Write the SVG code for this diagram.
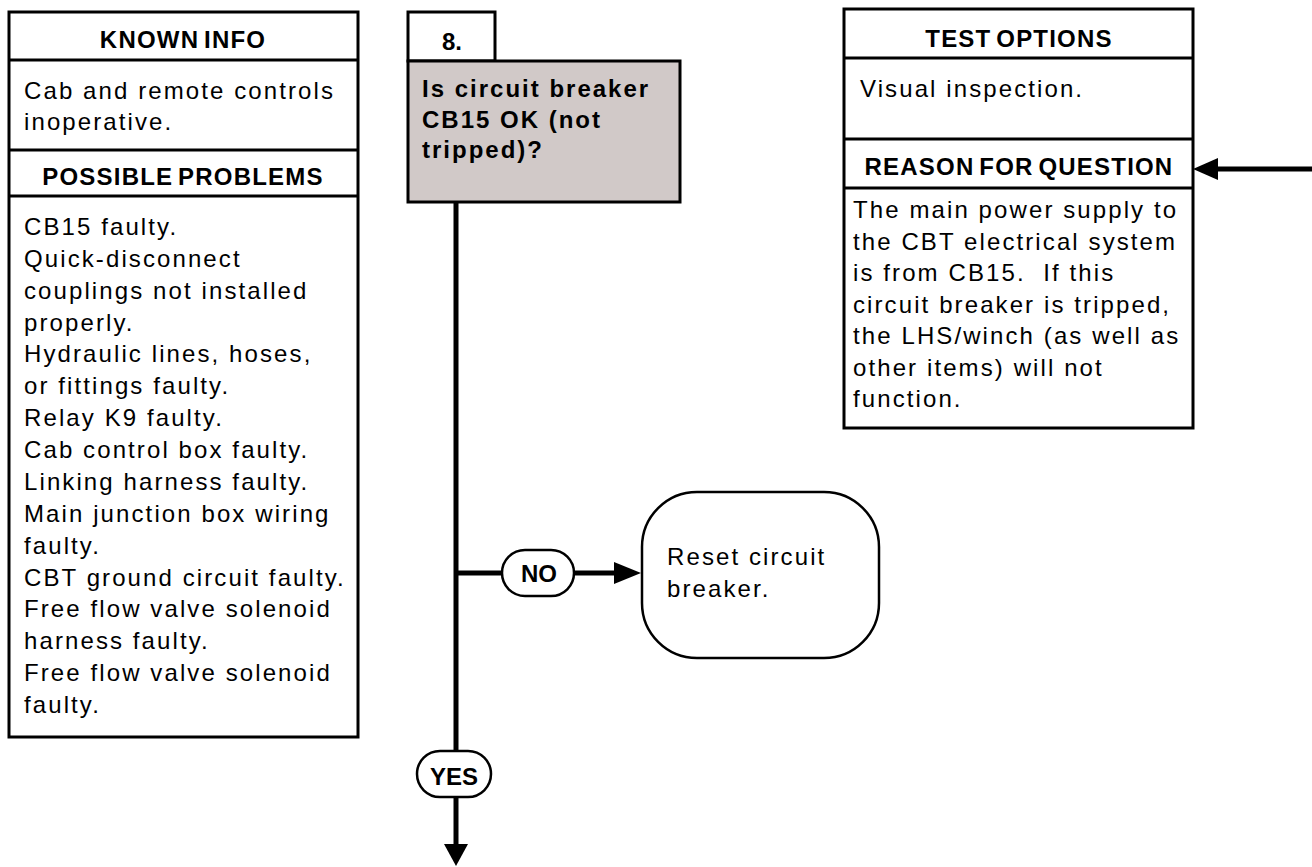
<svg xmlns="http://www.w3.org/2000/svg" width="1312" height="867" viewBox="0 0 1312 867">
<style>
.box{fill:#fff;stroke:#000;stroke-width:3}
.div{stroke:#000;stroke-width:3}
.hdr{font-family:"Liberation Sans",Arial,sans-serif;font-weight:bold;font-size:24px;letter-spacing:1.2px;word-spacing:-3px;text-anchor:middle;fill:#000}
.txt{font-family:"Liberation Sans",Arial,sans-serif;font-size:24px;letter-spacing:2.1px;fill:#000}
.btxt{font-family:"Liberation Sans",Arial,sans-serif;font-weight:bold;font-size:24px;letter-spacing:2px;fill:#000}
.lbl{font-family:"Liberation Sans",Arial,sans-serif;font-weight:bold;font-size:24px;text-anchor:middle;fill:#000}
.pill{fill:#fff;stroke:#000;stroke-width:2.5}
.ln{stroke:#000;stroke-width:5;fill:none}
</style>
<g id="known-info">
<rect class="box" x="9" y="12" width="349" height="725"/>
<line class="div" x1="9" y1="60" x2="358" y2="60"/>
<line class="div" x1="9" y1="150" x2="358" y2="150"/>
<line class="div" x1="9" y1="196" x2="358" y2="196"/>
<text class="hdr" x="183" y="48">KNOWN INFO</text>
<text class="txt" x="24" y="99">Cab and remote controls</text>
<text class="txt" x="24" y="130">inoperative.</text>
<text class="hdr" x="183" y="185">POSSIBLE PROBLEMS</text>
<text class="txt" x="24" y="235">CB15 faulty.</text>
<text class="txt" x="24" y="267">Quick-disconnect</text>
<text class="txt" x="24" y="299">couplings not installed</text>
<text class="txt" x="24" y="331">properly.</text>
<text class="txt" x="24" y="362">Hydraulic lines, hoses,</text>
<text class="txt" x="24" y="394">or fittings faulty.</text>
<text class="txt" x="24" y="426">Relay K9 faulty.</text>
<text class="txt" x="24" y="458">Cab control box faulty.</text>
<text class="txt" x="24" y="490">Linking harness faulty.</text>
<text class="txt" x="24" y="522">Main junction box wiring</text>
<text class="txt" x="24" y="554">faulty.</text>
<text class="txt" x="24" y="586">CBT ground circuit faulty.</text>
<text class="txt" x="24" y="617">Free flow valve solenoid</text>
<text class="txt" x="24" y="649">harness faulty.</text>
<text class="txt" x="24" y="681">Free flow valve solenoid</text>
<text class="txt" x="24" y="713">faulty.</text>
</g>
<g id="step-number">
<rect class="box" x="408" y="12" width="87" height="49"/>
<text class="lbl" x="452" y="50">8.</text>
</g>
<g id="question">
<rect x="408" y="61" width="272" height="141" fill="#d1c9c8" stroke="#000" stroke-width="3"/>
<text class="btxt" x="422" y="97">Is circuit breaker</text>
<text class="btxt" x="422" y="128">CB15 OK (not</text>
<text class="btxt" x="422" y="158">tripped)?</text>
</g>
<g id="test-options">
<rect class="box" x="844" y="9" width="349" height="419"/>
<line class="div" x1="844" y1="58" x2="1193" y2="58"/>
<line class="div" x1="844" y1="139" x2="1193" y2="139"/>
<line class="div" x1="844" y1="188" x2="1193" y2="188"/>
<text class="hdr" x="1019" y="47">TEST OPTIONS</text>
<text class="txt" x="860" y="97">Visual inspection.</text>
<text class="hdr" x="1019" y="175">REASON FOR QUESTION</text>
<text class="txt" x="853" y="218">The main power supply to</text>
<text class="txt" x="853" y="250">the CBT electrical system</text>
<text class="txt" x="853" y="281">is from CB15.&#160; If this</text>
<text class="txt" x="853" y="313">circuit breaker is tripped,</text>
<text class="txt" x="853" y="344">the LHS/winch (as well as</text>
<text class="txt" x="853" y="376">other items) will not</text>
<text class="txt" x="853" y="407">function.</text>
</g>
<g id="reset">
<rect x="642" y="492" width="237" height="166" rx="55" ry="55" fill="#fff" stroke="#000" stroke-width="2.5"/>
<text class="txt" x="667" y="565">Reset circuit</text>
<text class="txt" x="667" y="597">breaker.</text>
</g>
<g id="connectors">
<line class="ln" x1="456" y1="202" x2="456" y2="750"/>
<line class="ln" x1="456" y1="573" x2="502" y2="573"/>
<line class="ln" x1="574" y1="573" x2="616" y2="573"/>
<polygon points="614,562 641,573 614,584" fill="#000"/>
<line class="ln" x1="456" y1="798" x2="456" y2="846"/>
<polygon points="444,844 456,866 468,844" fill="#000"/>
<line class="ln" x1="1312" y1="169" x2="1216" y2="169"/>
<polygon points="1218,158 1193,169 1218,180" fill="#000"/>
<rect class="pill" x="502" y="550" width="72" height="46" rx="23" ry="23"/>
<text class="lbl" x="539" y="582">NO</text>
<rect class="pill" x="417" y="751" width="74" height="46" rx="23" ry="23"/>
<text class="lbl" x="454" y="785">YES</text>
</g>
</svg>
